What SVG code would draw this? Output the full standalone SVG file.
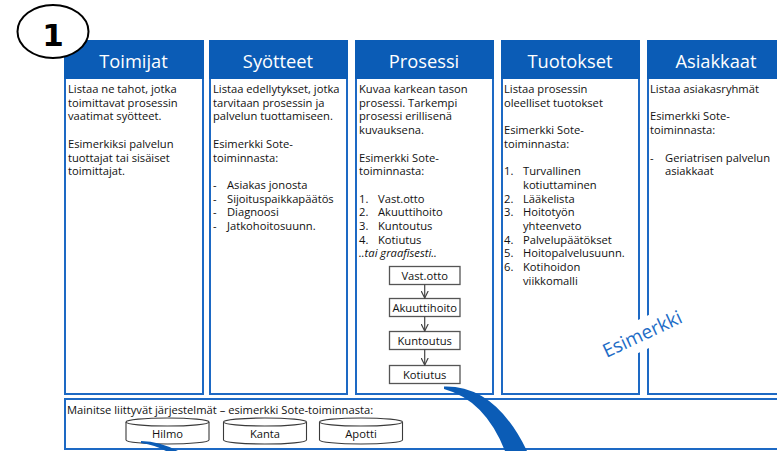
<svg xmlns="http://www.w3.org/2000/svg" width="777" height="451" viewBox="0 0 777 451">
  <style>
    .col { fill: #ffffff; stroke: #1d69c4; stroke-width: 2; }
    .hdr { fill: #0b5cb6; }
    .title { font-family: "Open Sans", "Noto Sans", sans-serif; font-size: 18.3px; font-weight: 500; fill: #ffffff; text-anchor: middle; }
    .t { font-family: "Open Sans", "Noto Sans", sans-serif; font-size: 11.2px; fill: #111111; }
    .it { font-style: italic; }
    .box { fill: #ffffff; stroke: #555555; stroke-width: 1.3; }
    .bl { font-family: "Open Sans", "Noto Sans", sans-serif; font-size: 11.2px; fill: #111111; text-anchor: middle; }
    .cyl { fill: #ffffff; stroke: #3a3a3a; stroke-width: 1.1; }
    .flow { stroke: #444444; stroke-width: 1.2; fill: none; }
    .swoosh { fill: #0b5cb6; }
  </style>
  <defs>
    <marker id="vee" viewBox="0 0 8 8" refX="7.5" refY="4" markerWidth="8" markerHeight="8" markerUnits="userSpaceOnUse" orient="auto">
      <path d="M0.5,0.5 L7.5,4 L0.5,7.5" fill="none" stroke="#444444" stroke-width="1.2"/>
    </marker>
  </defs>

  <!-- Column: Toimijat -->
  <g id="toimijat">
    <rect class="col" x="65" y="41" width="138" height="353"/>
    <rect class="hdr" x="64" y="40" width="140" height="39"/>
    <text class="title" x="133.5" y="68">Toimijat</text>
    <text class="t" x="68" y="93">Listaa ne tahot, jotka</text>
    <text class="t" x="68" y="106.7">toimittavat prosessin</text>
    <text class="t" x="68" y="120.4">vaatimat syötteet.</text>
    <text class="t" x="68" y="147.8">Esimerkiksi palvelun</text>
    <text class="t" x="68" y="161.5">tuottajat tai sisäiset</text>
    <text class="t" x="68" y="175.2">toimittajat.</text>
  </g>

  <!-- Column: Syötteet -->
  <g id="syotteet">
    <rect class="col" x="210" y="41" width="137" height="353"/>
    <rect class="hdr" x="209" y="40" width="139" height="39"/>
    <text class="title" x="278" y="68">Syötteet</text>
    <text class="t" x="213" y="93">Listaa edellytykset, jotka</text>
    <text class="t" x="213" y="106.7">tarvitaan prosessin ja</text>
    <text class="t" x="213" y="120.4">palvelun tuottamiseen.</text>
    <text class="t" x="213" y="147.8">Esimerkki Sote-</text>
    <text class="t" x="213" y="161.5">toiminnasta:</text>
    <text class="t" x="213" y="188.9">-</text><text class="t" x="227" y="188.9">Asiakas jonosta</text>
    <text class="t" x="213" y="202.6">-</text><text class="t" x="227" y="202.6">Sijoituspaikkapäätös</text>
    <text class="t" x="213" y="216.3">-</text><text class="t" x="227" y="216.3">Diagnoosi</text>
    <text class="t" x="213" y="230">-</text><text class="t" x="227" y="230">Jatkohoitosuunn.</text>
  </g>

  <!-- Column: Prosessi -->
  <g id="prosessi">
    <rect class="col" x="356" y="41" width="137" height="353"/>
    <rect class="hdr" x="355" y="40" width="139" height="39"/>
    <text class="title" x="424" y="68">Prosessi</text>
    <text class="t" x="359" y="93">Kuvaa karkean tason</text>
    <text class="t" x="359" y="106.7">prosessi. Tarkempi</text>
    <text class="t" x="359" y="120.4">prosessi erillisenä</text>
    <text class="t" x="359" y="134.1">kuvauksena.</text>
    <text class="t" x="359" y="161.5">Esimerkki Sote-</text>
    <text class="t" x="359" y="175.2">toiminnasta:</text>
    <text class="t" x="359" y="202.6">1.</text><text class="t" x="378" y="202.6">Vast.otto</text>
    <text class="t" x="359" y="216.3">2.</text><text class="t" x="378" y="216.3">Akuuttihoito</text>
    <text class="t" x="359" y="230">3.</text><text class="t" x="378" y="230">Kuntoutus</text>
    <text class="t" x="359" y="243.7">4.</text><text class="t" x="378" y="243.7">Kotiutus</text>
    <text class="t it" x="359" y="257.4">..tai graafisesti..</text>
  </g>

  <!-- Process steps drawn inside the Prosessi column -->
  <g id="step-vastotto">
    <rect class="box" x="389.5" y="266.5" width="70.5" height="18"/>
    <text class="bl" x="424.7" y="279.5">Vast.otto</text>
  </g>
  <g id="step-akuuttihoito">
    <rect class="box" x="389.5" y="298.5" width="70.5" height="18"/>
    <text class="bl" x="424.7" y="311.5">Akuuttihoito</text>
  </g>
  <g id="step-kuntoutus">
    <rect class="box" x="389.5" y="331.5" width="70.5" height="18"/>
    <text class="bl" x="424.7" y="344.5">Kuntoutus</text>
  </g>
  <g id="step-kotiutus">
    <rect class="box" x="389.5" y="365.5" width="70.5" height="18"/>
    <text class="bl" x="424.7" y="378.5">Kotiutus</text>
  </g>

  <!-- Column: Tuotokset -->
  <g id="tuotokset">
    <rect class="col" x="502" y="41" width="137" height="353"/>
    <rect class="hdr" x="501" y="40" width="139" height="39"/>
    <text class="title" x="570" y="68">Tuotokset</text>
    <text class="t" x="504" y="93">Listaa prosessin</text>
    <text class="t" x="504" y="106.7">oleelliset tuotokset</text>
    <text class="t" x="504" y="134.1">Esimerkki Sote-</text>
    <text class="t" x="504" y="147.8">toiminnasta:</text>
    <text class="t" x="504" y="175.2">1.</text><text class="t" x="523" y="175.2">Turvallinen</text>
    <text class="t" x="523" y="188.9">kotiuttaminen</text>
    <text class="t" x="504" y="202.6">2.</text><text class="t" x="523" y="202.6">Lääkelista</text>
    <text class="t" x="504" y="216.3">3.</text><text class="t" x="523" y="216.3">Hoitotyön</text>
    <text class="t" x="523" y="230">yhteenveto</text>
    <text class="t" x="504" y="243.7">4.</text><text class="t" x="523" y="243.7">Palvelupäätökset</text>
    <text class="t" x="504" y="257.4">5.</text><text class="t" x="523" y="257.4">Hoitopalvelusuunn.</text>
    <text class="t" x="504" y="271.1">6.</text><text class="t" x="523" y="271.1">Kotihoidon</text>
    <text class="t" x="523" y="284.8">viikkomalli</text>
  </g>

  <!-- Column: Asiakkaat (runs past the right edge) -->
  <g id="asiakkaat">
    <rect class="col" x="648" y="41" width="137" height="353"/>
    <rect class="hdr" x="647" y="40" width="139" height="39"/>
    <text class="title" x="716" y="68">Asiakkaat</text>
    <text class="t" x="650" y="93">Listaa asiakasryhmät</text>
    <text class="t" x="650" y="120.4">Esimerkki Sote-</text>
    <text class="t" x="650" y="134.1">toiminnasta:</text>
    <text class="t" x="650" y="161.5">-</text><text class="t" x="665" y="161.5">Geriatrisen palvelun</text>
    <text class="t" x="665" y="175.2">asiakkaat</text>
  </g>

  <!-- Systems strip -->
  <g id="jarjestelmat">
    <rect class="col" x="65" y="399" width="730" height="50"/>
    <text class="t" x="67" y="413.5">Mainitse liittyvät järjestelmät – esimerkki Sote-toiminnasta:</text>
  </g>
  <g id="hilmo">
    <path class="cyl" d="M126,422 V440 A41.5,4 0 0 0 209,440 V422"/>
    <ellipse class="cyl" cx="167.5" cy="422" rx="41.5" ry="4"/>
    <text class="bl" x="167.5" y="437.5">Hilmo</text>
  </g>
  <g id="kanta">
    <path class="cyl" d="M223.5,422 V440 A41.5,4 0 0 0 306.5,440 V422"/>
    <ellipse class="cyl" cx="265" cy="422" rx="41.5" ry="4"/>
    <text class="bl" x="265" y="437.5">Kanta</text>
  </g>
  <g id="apotti">
    <path class="cyl" d="M319.5,422 V440 A41.5,4 0 0 0 402.5,440 V422"/>
    <ellipse class="cyl" cx="361" cy="422" rx="41.5" ry="4"/>
    <text class="bl" x="361" y="437.5">Apotti</text>
  </g>

  <!-- Connectors between process steps -->
  <g id="connectors">
    <line class="flow" x1="424.7" y1="284.5" x2="424.7" y2="298" marker-end="url(#vee)"/>
    <line class="flow" x1="424.7" y1="316.5" x2="424.7" y2="331" marker-end="url(#vee)"/>
    <line class="flow" x1="424.7" y1="349.5" x2="424.7" y2="365" marker-end="url(#vee)"/>
  </g>

  <!-- Blue sweeps -->
  <path class="swoosh" d="M444,386.5 Q495,385 527,451 L505,451 Q485,400 444,389 Z"/>
  <path class="swoosh" d="M141,441 Q160,441.5 178,451 L166,451 Q155,445 141,443 Z"/>

  <!-- Rotated stamp -->
  <g id="esimerkki" transform="translate(645,340) rotate(-25)">
    <rect x="-50" y="-21" width="100" height="30" fill="#ffffff"/>
    <text x="0" y="0" font-family="'Open Sans', 'Noto Sans', sans-serif" font-size="19" font-weight="500" fill="#1d6cc6" text-anchor="middle">Esimerkki</text>
  </g>

  <!-- Step number badge -->
  <g id="badge">
    <ellipse cx="53" cy="31.5" rx="35.5" ry="26.5" fill="#ffffff" stroke="#000000" stroke-width="2"/>
    <text x="53" y="46" font-family="'DejaVu Sans', sans-serif" font-size="31" font-weight="bold" fill="#000000" text-anchor="middle">1</text>
  </g>
</svg>
